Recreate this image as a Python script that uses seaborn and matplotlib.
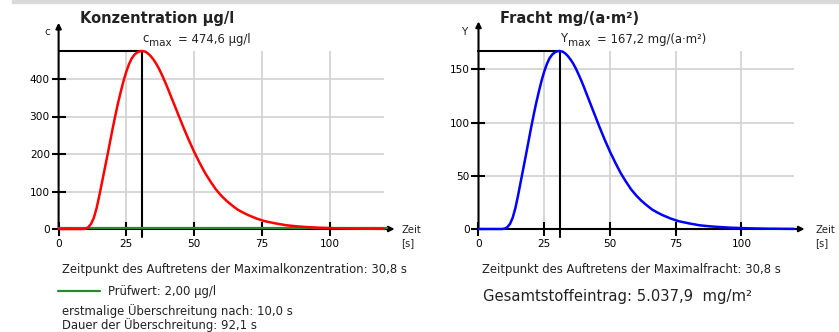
import matplotlib
matplotlib.use("Agg")
import matplotlib.pyplot as plt
import seaborn as sns
import pandas as pd

# values
zeit = [0, 5, 9, 10, 11, 12, 13, 14, 15, 16, 17, 18, 19, 20, 21, 22, 23, 24, 25, 26, 27, 28, 29, 30,
        30.8, 32, 33, 34, 35, 36, 37, 38, 39, 40, 41, 42, 43, 44, 45, 46, 47, 48, 49, 50,
        52, 54, 56, 58, 60, 62, 64, 66, 68, 70, 73, 76, 80, 84, 88, 92, 96, 100,
        102, 106, 110, 115, 120]
konz = [0, 0, 0, 1, 5, 14, 30, 55, 88, 124, 160, 196, 233, 270, 305, 338, 368, 396, 420, 440, 455, 465, 471, 474,
        474.6, 473, 468, 461, 452, 441, 428, 413, 397, 380, 362, 344, 326, 308, 290, 272, 255, 238, 222, 206,
        177, 150, 127, 106, 89, 75, 63, 52, 44, 37, 28, 21, 15, 10, 7, 5, 3.5, 2.5,
        2, 1.3, 0.9, 0.6, 0.4]
fracht = [0, 0, 0, 0.4, 1.8, 4.9, 10.6, 19.4, 31.0, 43.7, 56.4, 69.1, 82.1, 95.1, 107.5, 119.1, 129.6, 139.5, 148.0, 155.0, 160.3, 163.8, 165.9, 167.0,
          167.2, 166.6, 164.9, 162.4, 159.2, 155.4, 150.8, 145.5, 139.9, 133.9, 127.5, 121.2, 114.8, 108.5, 102.2, 95.8, 89.8, 83.8, 78.2, 72.6,
          62.4, 52.8, 44.7, 37.3, 31.4, 26.4, 22.2, 18.3, 15.5, 13.0, 9.9, 7.4, 5.3, 3.5, 2.5, 1.8, 1.2, 0.9,
          0.7, 0.5, 0.3, 0.2, 0.1]
t_max = 30.8
c_max = 474.6
y_max = 167.2
pruefwert = 2.0
xticks = [0, 25, 50, 75, 100]
c_ticks = [0, 100, 200, 300, 400]
y_ticks = [0, 50, 100, 150]

df = pd.DataFrame({"Zeit": zeit, "Konzentration": konz, "Fracht": fracht})

sns.set_style("white")
plt.rcParams["font.family"] = ["DejaVu Sans"]

W, H = 839, 332
fig = plt.figure(figsize=(W / 100, H / 100), dpi=100)


def box(l, t, r, b):
    return [l / W, 1 - b / H, (r - l) / W, (b - t) / H]


grey = "#d4d4d4"
txt = "#222222"
fs = 8.4

# grey bar at top
fig.patches.append(plt.Rectangle((12 / W, 1 - 3 / H), 1, 3 / H, transform=fig.transFigure,
                                 color="#d9d9d9", zorder=0))


def draw_panel(ax, col, color, vmax, ymax_lim, xmax_lim, grid_y, ticks_y, tick_down):
    ax.set_xlim(0, xmax_lim)
    ax.set_ylim(0, ymax_lim)
    for s in ax.spines.values():
        s.set_visible(False)
    ax.vlines([25, 50, 75, 100], 0, vmax, color=grey, lw=1.3, zorder=0)
    ax.hlines(grid_y, 0, 120, color=grey, lw=1.3, zorder=0)
    # axes with arrows
    ax.annotate("", xy=(xmax_lim - 2, 0), xytext=(0, 0),
                arrowprops=dict(arrowstyle="-|>", color="black", lw=1.5, mutation_scale=8,
                                shrinkA=0, shrinkB=0), annotation_clip=False, zorder=2)
    ax.annotate("", xy=(0, ymax_lim), xytext=(0, 0),
                arrowprops=dict(arrowstyle="-|>", color="black", lw=1.5, mutation_scale=8,
                                shrinkA=0, shrinkB=0), annotation_clip=False, zorder=2)
    # max lines
    ax.plot([0, t_max, t_max], [vmax, vmax, -tick_down], color="black", lw=1.5,
            clip_on=False, zorder=3)
    sns.lineplot(data=df, x="Zeit", y=col, ax=ax, color=color, lw=1.8,
                 clip_on=False, zorder=5)
    ax.set_xticks(xticks)
    ax.set_yticks(ticks_y)
    ax.tick_params(bottom=True, left=True, direction="inout", length=9.5, width=1.5,
                   labelsize=7.6, colors="black", pad=1.5)
    ax.tick_params(axis="x", pad=2.5)
    ax.set_xlabel("")
    ax.set_ylabel("")


def ftext(x, y, s, **kw):
    fig.text(x / W, 1 - y / H, s, va="center", ha="left", color=txt, **kw)


# left panel
ax1 = fig.add_axes(box(58.6, 22.75, 58.6 + 126 * 2.71, 229))
ax1.plot([0, 121], [pruefwert, pruefwert], color="#2a8a2a", lw=1.6, clip_on=False, zorder=4)
draw_panel(ax1, "Konzentration", "#ff0000", c_max, 550, 126, [100, 200, 300, 400], c_ticks, 21)
ftext(44, 32, "c", fontsize=7.6)
ftext(142, 39, "c", fontsize=fs)
ftext(149, 43, "max", fontsize=7.5)
ftext(178, 39, "= 474,6 µg/l", fontsize=fs)

# right panel
ax2 = fig.add_axes(box(478.5, 21.4, 478.5 + 126 * 2.63, 229))
draw_panel(ax2, "Fracht", "#0000ff", y_max, 195, 126, [50, 100, 150], y_ticks, 7.5)
ftext(461, 32, "Y", fontsize=7.6)
ftext(561, 39, "Y", fontsize=fs)
ftext(568, 43, "max", fontsize=7.5)
ftext(597, 39, "= 167,2 mg/(a·m²)", fontsize=fs)

ftext(80, 18, "Konzentration µg/l", fontsize=10.5, fontweight="bold")
ftext(500, 18, "Fracht mg/(a·m²)", fontsize=10.5, fontweight="bold")
for x0 in (401, 815):
    ftext(x0, 230, "Zeit", fontsize=7.2)
    ftext(x0, 243, "[s]", fontsize=7.2)

ftext(62, 270, "Zeitpunkt des Auftretens der Maximalkonzentration: 30,8 s", fontsize=fs)
fig.lines.append(plt.Line2D([58 / W, 100 / W], [1 - 291 / H, 1 - 291 / H], color="#2a8a2a",
                            lw=1.6, transform=fig.transFigure))
ftext(108, 291, "Prüfwert: 2,00 µg/l", fontsize=fs)
ftext(62, 311, "erstmalige Überschreitung nach: 10,0 s", fontsize=fs)
ftext(62, 325, "Dauer der Überschreitung: 92,1 s", fontsize=fs)

ftext(482, 270, "Zeitpunkt des Auftretens der Maximalfracht: 30,8 s", fontsize=fs)
ftext(483, 297, "Gesamtstoffeintrag: 5.037,9  mg/m²", fontsize=10.6)

fig.savefig("out.png", dpi=100)
